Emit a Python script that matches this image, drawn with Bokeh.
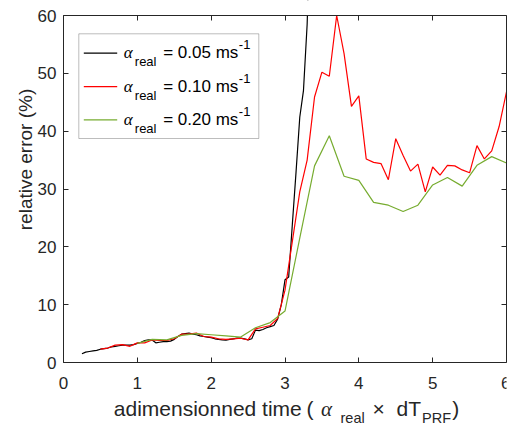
from bokeh.plotting import figure
from bokeh.models import (Range1d, LinearAxis, FixedTicker, Label, BoxAnnotation,
                          CustomJSTickFormatter)
from bokeh.embed import file_html
from bokeh.resources import INLINE

# ---------------- data ----------------
black_x = [0.25, 0.30, 0.35, 0.40, 0.45, 0.50, 0.55, 0.60, 0.65, 0.70, 0.75, 0.80,
           0.85, 0.90, 0.95, 1.00, 1.05, 1.10, 1.15, 1.20, 1.25, 1.30, 1.35, 1.40,
           1.45, 1.50, 1.55, 1.60, 1.65, 1.70, 1.75, 1.80, 1.85, 1.90, 1.95, 2.00,
           2.05, 2.10, 2.15, 2.20, 2.25, 2.30, 2.35, 2.40, 2.45, 2.50, 2.55, 2.60,
           2.65, 2.70, 2.75, 2.80, 2.85, 2.90, 2.95, 3.00, 3.05, 3.10, 3.15, 3.20,
           3.25, 3.30, 3.35]
black_y = [1.5, 1.8, 1.9, 2.0, 2.1, 2.3, 2.4, 2.5, 2.7, 2.8, 2.9, 3.0,
           3.0, 3.0, 3.1, 3.3, 3.5, 3.8, 3.9, 3.9, 3.4, 3.5, 3.6, 3.6,
           3.7, 4.0, 4.5, 4.9, 5.0, 5.1, 4.9, 4.8, 4.6, 4.5, 4.4, 4.3,
           4.1, 4.0, 3.9, 3.85, 4.0, 4.1, 4.2, 4.2, 4.1, 3.9, 4.1, 5.6,
           5.5, 5.7, 6.0, 6.2, 6.4, 7.5, 10.0, 14.3, 14.8, 24.0, 33.0, 42.4,
           47.0, 58.5, 80.0]

red_x = [0.5, 0.6, 0.7, 0.8, 0.9, 1.0, 1.1, 1.2, 1.3, 1.4, 1.5, 1.6, 1.7, 1.8,
         1.9, 2.0, 2.1, 2.2, 2.3, 2.4, 2.5, 2.6, 2.7, 2.8, 2.9, 3.0, 3.1, 3.2,
         3.3, 3.4, 3.5, 3.6, 3.7, 3.8, 3.9, 4.0, 4.1, 4.2, 4.3, 4.4, 4.5, 4.6,
         4.7, 4.8, 4.9, 5.0, 5.1, 5.2, 5.3, 5.4, 5.5, 5.6, 5.7, 5.8, 5.9, 6.0]
red_y = [2.3, 2.5, 3.0, 3.1, 2.8, 3.4, 3.4, 3.9, 3.8, 3.8, 4.1, 4.9, 4.9, 5.1,
         4.5, 4.4, 4.1, 4.0, 4.1, 4.2, 3.9, 5.8, 6.1, 6.4, 7.6, 12.5, 21.0, 29.5,
         35.0, 45.9, 50.2, 49.5, 60.0, 53.4, 44.3, 46.1, 35.2, 34.6, 34.4, 31.6, 38.7, 35.8,
         33.1, 34.3, 29.5, 33.8, 32.4, 34.1, 34.0, 33.3, 32.8, 37.5, 35.2, 36.6, 40.8, 46.8]

green_x = [1.0, 1.2, 1.4, 1.6, 1.8, 2.0, 2.2, 2.4, 2.6, 2.8, 3.0, 3.2, 3.4,
           3.6, 3.8, 4.0, 4.2, 4.4, 4.6, 4.8, 5.0, 5.2, 5.4, 5.6, 5.8, 6.0]
green_y = [3.3, 4.0, 3.9, 4.7, 5.0, 4.8, 4.6, 4.4, 6.0, 6.9, 8.9, 21.5, 34.0,
           39.2, 32.2, 31.5, 27.7, 27.2, 26.1, 27.2, 30.7, 32.0, 30.5, 34.1, 35.6, 34.5]

series_values = ["0.05", "0.10", "0.20"]
series_colors = ["#000000", "#ff0000", "#77ac30"]
x_ticks = [0, 1, 2, 3, 4, 5, 6]
y_ticks = [0, 10, 20, 30, 40, 50, 60]
y_title = "relative error (%)"

# ---------------- layout constants (page px) ----------------
W, H = 510, 426
AL, AR, AT, AB = 63, 506, 15, 362     # axes box edges on the page
FRAME_L = 36                          # frame starts here; y title sits left of it
XMIN, XMAX, YMIN, YMAX = 0, 6, 0, 60
AX = "#262626"
SANS = "Liberation Sans"
SERIF = "Liberation Serif"
MID = 0.3465   # (ascent - descent) / 2 of the sans font, in em


def px2x(px):
    return XMIN + (px - AL) / (AR - AL) * (XMAX - XMIN)


def py2y(py):
    return YMIN + (AB - py) / (AB - AT) * (YMAX - YMIN)


# the frame covers the whole page right of the y title, so tick labels and the
# x label (with subscripts) are not clipped; axes are pinned to the axes box
p = figure(width=W, height=H, output_backend="svg", toolbar_location=None,
           x_range=Range1d(px2x(FRAME_L), XMAX), y_range=Range1d(py2y(H), py2y(0)),
           min_border_left=FRAME_L, min_border_right=W - AR,
           min_border_top=0, min_border_bottom=0)
p.grid.visible = False
p.outline_line_color = None
p.background_fill_color = "white"
p.border_fill_color = "white"

for ax in (p.xaxis[0], p.yaxis[0]):
    ax.major_tick_in = 5
    ax.major_tick_out = 0
    ax.minor_tick_line_color = None
    ax.axis_line_color = AX
    ax.major_tick_line_color = AX
    ax.major_label_text_font = SANS
    ax.major_label_text_font_size = "17px"
    ax.major_label_text_color = AX
p.xaxis[0].ticker = FixedTicker(ticks=x_ticks)
p.yaxis[0].ticker = FixedTicker(ticks=y_ticks)
p.xaxis[0].fixed_location = YMIN
p.yaxis[0].fixed_location = XMIN
p.xaxis[0].bounds = (XMIN, XMAX)
p.yaxis[0].bounds = (YMIN, YMAX)
p.xaxis[0].major_label_standoff = 14
p.yaxis[0].major_label_standoff = 7

# y title drawn as the single tick label of a second, line-less left axis
YT = py2y(159)
yt_axis = LinearAxis(ticker=FixedTicker(ticks=[YT]),
                     formatter=CustomJSTickFormatter(code=f"return {y_title!r}"),
                     major_label_orientation="vertical",
                     axis_line_color=None, major_tick_line_color=None,
                     minor_tick_line_color=None, major_tick_in=0, major_tick_out=0,
                     major_label_standoff=1, major_label_text_font=SANS,
                     major_label_text_font_size="19px", major_label_text_color=AX)
p.add_layout(yt_axis, "left")

# ---------------- data lines ----------------
for xs, ys, c in ((black_x, black_y, series_colors[0]),
                  (red_x, red_y, series_colors[1]),
                  (green_x, green_y, series_colors[2])):
    p.line(xs, ys, line_color=c, line_width=1.2)

# white mask above the axes box (data above 60 is out of view)
p.quad(left=[px2x(-50)], right=[px2x(W + 50)], bottom=[YMAX], top=[py2y(-300)],
       fill_color="white", line_color="white", line_width=1)

# box axes on top and right
top_axis = LinearAxis(ticker=FixedTicker(ticks=x_ticks), bounds=(XMIN, XMAX),
                      fixed_location=YMAX,
                      formatter=CustomJSTickFormatter(code="return ''"),
                      major_tick_in=5, major_tick_out=0, minor_tick_line_color=None,
                      axis_line_color=AX, major_tick_line_color=AX,
                      major_label_standoff=0, major_label_text_font_size="1px")
p.add_layout(top_axis, "above")
right_axis = LinearAxis(ticker=FixedTicker(ticks=y_ticks), bounds=(YMIN, YMAX),
                        formatter=CustomJSTickFormatter(code="return ''"),
                        major_tick_in=5, major_tick_out=0, minor_tick_line_color=None,
                        axis_line_color=AX, major_tick_line_color=AX,
                        major_label_standoff=0, major_label_text_font_size="1px")
p.add_layout(right_axis, "right")


def lab(text, px, base, size, font=SANS, style="normal", color=AX):
    """text whose left end is at page x=px and whose baseline is at page y=base"""
    p.add_layout(Label(x=px2x(px), y=py2y(base - MID * size), text=text,
                       text_font=font, text_font_style=style,
                       text_font_size=f"{size}px", text_color=color,
                       text_align="left", text_baseline="middle"))


# ---------------- legend ----------------
p.add_layout(BoxAnnotation(left=px2x(78.3), right=px2x(258.3), top=py2y(33.3),
                           bottom=py2y(138), fill_color="white", fill_alpha=1,
                           line_color=AX, line_width=1))
row_base = [58.3, 91.7, 125.0]
p.segment(x0=[px2x(83.3)] * 3, x1=[px2x(116.7)] * 3,
          y0=[py2y(b - 5.6) for b in row_base], y1=[py2y(b - 5.6) for b in row_base],
          line_color=series_colors, line_width=1.2, level="overlay")
for b, v in zip(row_base, series_values):
    lab("\u03b1", 123.3, b, 17, font=SERIF, style="italic", color="#000000")
    lab("real", 134.3, b + 7.4, 13, color="#000000")
    lab(f"= {v} ms", 162.7, b, 17, color="#000000")
    lab("-1", 238.3, b - 9.3, 13, color="#000000")

# ---------------- x label ----------------
xb = 415.7
sb = 422.8
lab("adimensionned time", 113.3, xb, 21)
lab("(", 306, xb, 21)
lab("\u03b1", 320.5, xb, 21, font=SERIF, style="italic")
lab("real", 340, sb, 14.5)
lab("\u00d7", 372, xb, 21)
lab("dT", 396, xb, 21)
lab("PRF", 421.5, sb, 14.5)
lab(")", 451.7, xb, 21)

open("out.html", "w").write(file_html(p, INLINE))
